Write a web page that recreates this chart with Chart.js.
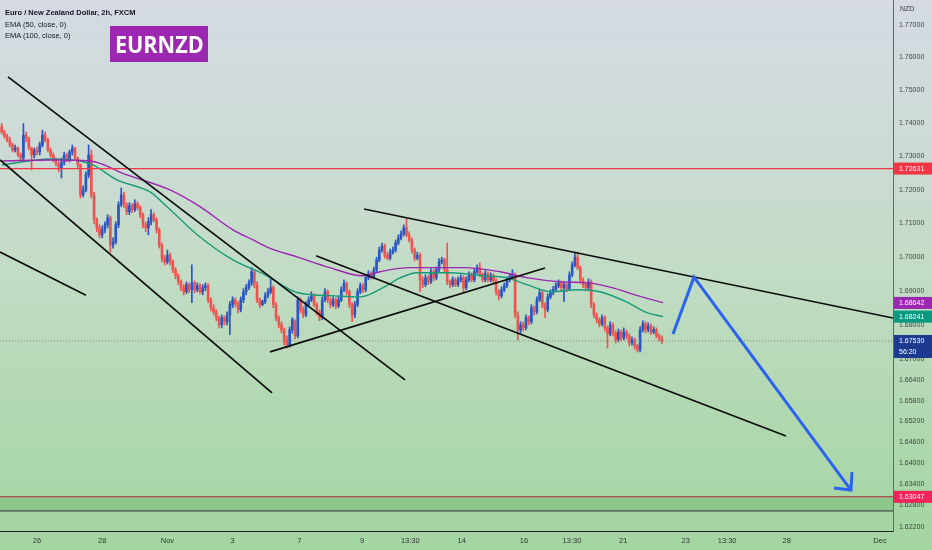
<!DOCTYPE html>
<html>
<head>
<meta charset="utf-8">
<script src="https://cdn.jsdelivr.net/npm/chart.js@4.4.0/dist/chart.umd.min.js"></script>
<style>
html,body{margin:0;padding:0;}
body{width:932px;height:550px;overflow:hidden;position:relative;
  background:linear-gradient(180deg,#d5dae3 0%,#cddbd6 25%,#c2dcc5 50%,#b1d8b0 75%,#a3d5a1 100%);
  font-family:"Liberation Sans",Arial,sans-serif;}
#c{position:absolute;left:0;top:0;}
.leg{position:absolute;left:5px;font-size:7.5px;line-height:9px;color:#131722;white-space:nowrap;}
#badge{position:absolute;left:110px;top:26px;width:98px;height:36px;background:#9c27b0;color:#fff;
  font-family:"Open Sans","Noto Sans",sans-serif;font-weight:700;font-size:24px;line-height:36px;text-align:center;}
#badge span{display:inline-block;transform:scaleX(0.9);}
</style>
</head>
<body>
<canvas id="c" width="932" height="550"></canvas>
<div class="leg" style="top:7.5px;font-weight:bold;">Euro / New Zealand Dollar, 2h, FXCM</div>
<div class="leg" style="top:19.5px;">EMA (50, close, 0)</div>
<div class="leg" style="top:30.5px;">EMA (100, close, 0)</div>
<div id="badge"><span>EURNZD</span></div>
<script>
// ---- time axis: trading days counted from Oct 26 00:00 ----
const firstBarDay = -13/12;   // first visible 2h bar (Oct 24 22:00)
const barStepDays = 1/12;     // 2h bars
const xMinDay = -1.135, xMaxDay = 26.258;
const xTickDays   = [0, 2, 4, 6, 8.05, 9.97, 11.45, 13.03, 14.94, 16.41, 17.98, 19.9, 21.17, 23.0, 25.86];
const xTickLabels = ["26","28","Nov","3","7","9","13:30","14","16","13:30","21","23","13:30","28","Dec"];

// ---- price axis ----
const yMinPrice = 1.6208, yMaxPrice = 1.7777;
const yTickValues = [1.77,1.76,1.75,1.74,1.73,1.72,1.71,1.70,1.69,1.68,1.67,1.664,1.658,1.652,1.646,1.640,1.634,1.628,1.622];

// ---- 2h candles ----
const opens = [
1.7390,1.7373,1.7361,1.7349,1.7334,1.7319,1.7325,1.7304,1.7295,1.7364,
1.7355,1.7325,1.7304,1.7319,1.7313,1.7334,1.7364,1.7349,1.7319,1.7304,
1.7289,1.7277,1.7265,1.7283,1.7304,1.7289,1.7313,1.7325,1.7295,1.7274,
1.7184,1.7199,1.7244,1.7304,1.7184,1.7110,1.7086,1.7065,1.7080,1.7095,
1.7116,1.7035,1.7044,1.7095,1.7155,1.7184,1.7155,1.7134,1.7152,1.7140,
1.7158,1.7146,1.7125,1.7095,1.7086,1.7104,1.7125,1.7110,1.7080,1.7035,
1.6996,1.6985,1.7005,1.6985,1.6962,1.6944,1.6926,1.6909,1.6897,1.6918,
1.6903,1.6923,1.6903,1.6915,1.6897,1.6909,1.6915,1.6873,1.6850,1.6838,
1.6821,1.6800,1.6821,1.6809,1.6829,1.6859,1.6873,1.6862,1.6844,1.6873,
1.6897,1.6909,1.6923,1.6956,1.6918,1.6873,1.6859,1.6868,1.6885,1.6897,
1.6909,1.6859,1.6821,1.6800,1.6785,1.6756,1.6741,1.6785,1.6809,1.6768,
1.6873,1.6844,1.6829,1.6859,1.6873,1.6885,1.6859,1.6838,1.6821,1.6873,
1.6897,1.6873,1.6859,1.6873,1.6856,1.6873,1.6903,1.6921,1.6897,1.6859,
1.6829,1.6859,1.6897,1.6915,1.6903,1.6938,1.6950,1.6941,1.6962,1.6991,
1.7020,1.7032,1.7005,1.6996,1.7014,1.7020,1.7041,1.7056,1.7068,1.7086,
1.7065,1.7050,1.7020,1.6996,1.7005,1.6932,1.6918,1.6938,1.6926,1.6956,
1.6938,1.6962,1.6985,1.6991,1.6962,1.6926,1.6918,1.6932,1.6918,1.6932,
1.6938,1.6909,1.6932,1.6947,1.6932,1.6956,1.6968,1.6947,1.6932,1.6950,
1.6932,1.6944,1.6929,1.6897,1.6885,1.6903,1.6915,1.6932,1.6941,1.6947,
1.6829,1.6785,1.6800,1.6791,1.6821,1.6809,1.6850,1.6838,1.6873,1.6894,
1.6859,1.6844,1.6882,1.6894,1.6903,1.6915,1.6923,1.6909,1.6918,1.6906,
1.6947,1.6976,1.6999,1.6968,1.6932,1.6918,1.6909,1.6926,1.6859,1.6829,
1.6815,1.6803,1.6821,1.6791,1.6774,1.6800,1.6776,1.6756,1.6779,1.6762,
1.6779,1.6768,1.6747,1.6756,1.6738,1.6727,1.6785,1.6803,1.6785,1.6797,
1.6779,1.6785,1.6768,1.6762];
const highs = [
1.7399,1.7379,1.7367,1.7358,1.7340,1.7334,1.7328,1.7310,1.7399,1.7373,
1.7358,1.7328,1.7325,1.7328,1.7343,1.7379,1.7373,1.7355,1.7325,1.7310,
1.7295,1.7283,1.7295,1.7313,1.7310,1.7319,1.7334,1.7328,1.7298,1.7277,
1.7211,1.7253,1.7334,1.7319,1.7193,1.7116,1.7095,1.7092,1.7104,1.7125,
1.7122,1.7056,1.7104,1.7164,1.7205,1.7193,1.7161,1.7161,1.7158,1.7170,
1.7164,1.7152,1.7131,1.7104,1.7116,1.7140,1.7131,1.7116,1.7086,1.7041,
1.7005,1.7020,1.7011,1.6991,1.6968,1.6950,1.6932,1.6918,1.6926,1.6923,
1.6976,1.6929,1.6923,1.6921,1.6918,1.6923,1.6921,1.6879,1.6859,1.6844,
1.6826,1.6829,1.6826,1.6838,1.6868,1.6882,1.6879,1.6868,1.6882,1.6906,
1.6918,1.6932,1.6968,1.6962,1.6926,1.6879,1.6873,1.6894,1.6906,1.6938,
1.6915,1.6865,1.6826,1.6809,1.6791,1.6768,1.6794,1.6821,1.6815,1.6882,
1.6879,1.6853,1.6868,1.6882,1.6897,1.6891,1.6865,1.6844,1.6882,1.6906,
1.6903,1.6879,1.6882,1.6879,1.6885,1.6912,1.6932,1.6926,1.6903,1.6865,
1.6868,1.6906,1.6923,1.6921,1.6947,1.6959,1.6956,1.6970,1.6999,1.7029,
1.7041,1.7038,1.7014,1.7023,1.7029,1.7050,1.7065,1.7077,1.7095,1.7113,
1.7074,1.7056,1.7026,1.7014,1.7011,1.6941,1.6947,1.6944,1.6965,1.6962,
1.6970,1.6994,1.6999,1.6996,1.7041,1.6932,1.6941,1.6938,1.6941,1.6947,
1.6944,1.6941,1.6956,1.6953,1.6965,1.6976,1.6982,1.6953,1.6959,1.6956,
1.6953,1.6950,1.6935,1.6903,1.6912,1.6923,1.6941,1.6950,1.6962,1.6953,
1.6838,1.6809,1.6809,1.6829,1.6826,1.6859,1.6856,1.6882,1.6903,1.6900,
1.6865,1.6891,1.6903,1.6912,1.6923,1.6932,1.6929,1.6926,1.6923,1.6956,
1.6985,1.7014,1.7014,1.6973,1.6938,1.6923,1.6935,1.6932,1.6865,1.6835,
1.6821,1.6829,1.6826,1.6797,1.6809,1.6806,1.6782,1.6788,1.6785,1.6791,
1.6785,1.6774,1.6765,1.6762,1.6744,1.6794,1.6812,1.6809,1.6806,1.6803,
1.6794,1.6791,1.6774,1.6768];
const lows = [
1.7367,1.7355,1.7343,1.7328,1.7313,1.7313,1.7298,1.7283,1.7289,1.7343,
1.7319,1.7259,1.7295,1.7304,1.7304,1.7328,1.7343,1.7313,1.7298,1.7283,
1.7271,1.7253,1.7235,1.7274,1.7283,1.7283,1.7304,1.7289,1.7265,1.7175,
1.7178,1.7193,1.7235,1.7175,1.7098,1.7074,1.7056,1.7056,1.7071,1.7086,
1.7014,1.7026,1.7038,1.7086,1.7149,1.7146,1.7125,1.7125,1.7131,1.7134,
1.7140,1.7116,1.7086,1.7074,1.7065,1.7095,1.7104,1.7071,1.7026,1.6985,
1.6976,1.6979,1.6976,1.6953,1.6935,1.6918,1.6900,1.6888,1.6891,1.6894,
1.6865,1.6894,1.6897,1.6891,1.6888,1.6900,1.6865,1.6841,1.6829,1.6812,
1.6791,1.6791,1.6800,1.6800,1.6771,1.6850,1.6853,1.6835,1.6838,1.6865,
1.6888,1.6903,1.6915,1.6909,1.6865,1.6850,1.6856,1.6862,1.6879,1.6891,
1.6850,1.6812,1.6791,1.6776,1.6741,1.6732,1.6735,1.6776,1.6759,1.6762,
1.6835,1.6821,1.6824,1.6853,1.6868,1.6853,1.6829,1.6812,1.6815,1.6868,
1.6865,1.6850,1.6853,1.6847,1.6850,1.6868,1.6897,1.6888,1.6850,1.6809,
1.6821,1.6853,1.6891,1.6894,1.6897,1.6932,1.6935,1.6935,1.6956,1.6985,
1.7014,1.6996,1.6991,1.6991,1.7008,1.7014,1.7035,1.7050,1.7062,1.7059,
1.7044,1.7011,1.6988,1.6991,1.6897,1.6909,1.6912,1.6918,1.6921,1.6929,
1.6932,1.6956,1.6979,1.6953,1.6918,1.6909,1.6912,1.6912,1.6912,1.6926,
1.6894,1.6903,1.6926,1.6926,1.6926,1.6950,1.6941,1.6926,1.6926,1.6926,
1.6926,1.6923,1.6888,1.6873,1.6879,1.6897,1.6909,1.6926,1.6935,1.6821,
1.6756,1.6776,1.6782,1.6785,1.6800,1.6803,1.6829,1.6832,1.6868,1.6850,
1.6821,1.6838,1.6876,1.6888,1.6897,1.6909,1.6900,1.6868,1.6897,1.6900,
1.6941,1.6970,1.6962,1.6923,1.6909,1.6900,1.6903,1.6850,1.6821,1.6806,
1.6794,1.6797,1.6782,1.6732,1.6768,1.6768,1.6747,1.6750,1.6753,1.6756,
1.6759,1.6738,1.6741,1.6729,1.6721,1.6721,1.6779,1.6776,1.6779,1.6771,
1.6774,1.6762,1.6753,1.6744];
const closes = [
1.7373,1.7361,1.7349,1.7334,1.7319,1.7325,1.7304,1.7295,1.7364,1.7355,
1.7325,1.7304,1.7319,1.7313,1.7334,1.7364,1.7349,1.7319,1.7304,1.7289,
1.7277,1.7265,1.7283,1.7304,1.7289,1.7313,1.7325,1.7295,1.7274,1.7184,
1.7199,1.7244,1.7304,1.7184,1.7110,1.7086,1.7065,1.7080,1.7095,1.7116,
1.7035,1.7044,1.7095,1.7155,1.7184,1.7155,1.7134,1.7152,1.7140,1.7158,
1.7146,1.7125,1.7095,1.7086,1.7104,1.7125,1.7110,1.7080,1.7035,1.6996,
1.6985,1.7005,1.6985,1.6962,1.6944,1.6926,1.6909,1.6897,1.6918,1.6903,
1.6923,1.6903,1.6915,1.6897,1.6909,1.6915,1.6873,1.6850,1.6838,1.6821,
1.6800,1.6821,1.6809,1.6829,1.6859,1.6873,1.6862,1.6844,1.6873,1.6897,
1.6909,1.6923,1.6956,1.6918,1.6873,1.6859,1.6868,1.6885,1.6897,1.6909,
1.6859,1.6821,1.6800,1.6785,1.6756,1.6741,1.6785,1.6815,1.6768,1.6873,
1.6844,1.6829,1.6859,1.6873,1.6885,1.6859,1.6838,1.6821,1.6873,1.6897,
1.6873,1.6859,1.6873,1.6856,1.6873,1.6903,1.6921,1.6897,1.6859,1.6829,
1.6859,1.6897,1.6915,1.6903,1.6938,1.6950,1.6941,1.6962,1.6991,1.7020,
1.7032,1.7005,1.6996,1.7014,1.7020,1.7041,1.7056,1.7068,1.7086,1.7065,
1.7050,1.7020,1.6996,1.7005,1.6932,1.6918,1.6938,1.6926,1.6956,1.6938,
1.6962,1.6985,1.6991,1.6962,1.6926,1.6918,1.6932,1.6918,1.6932,1.6938,
1.6909,1.6932,1.6947,1.6932,1.6956,1.6968,1.6947,1.6932,1.6950,1.6932,
1.6944,1.6929,1.6897,1.6885,1.6903,1.6915,1.6932,1.6941,1.6947,1.6829,
1.6785,1.6800,1.6791,1.6821,1.6809,1.6850,1.6838,1.6873,1.6894,1.6859,
1.6844,1.6882,1.6894,1.6903,1.6915,1.6923,1.6909,1.6918,1.6906,1.6947,
1.6976,1.6999,1.6968,1.6932,1.6918,1.6909,1.6926,1.6859,1.6829,1.6815,
1.6803,1.6821,1.6791,1.6774,1.6800,1.6776,1.6756,1.6779,1.6762,1.6779,
1.6768,1.6747,1.6756,1.6738,1.6727,1.6785,1.6803,1.6785,1.6797,1.6779,
1.6785,1.6768,1.6762,1.6753];

// ---- moving averages ----
const ema50Days = [-1.074,0.399,1.319,1.718,2.454,3.466,3.988,5.0,6.012,6.994,8.006,9.141,9.908,10.613,11.135,11.656,12.669,13.681,14.417,15.031,15.798,16.595,17.27,18.129,18.65,19.202];
const ema50Vals = [1.7274,1.7292,1.7286,1.7274,1.7229,1.7193,1.7149,1.7059,1.6991,1.6947,1.6894,1.6885,1.6882,1.6909,1.6938,1.6953,1.6953,1.6944,1.6938,1.6918,1.6897,1.6903,1.6897,1.6865,1.6838,1.6824];
const ema100Days = [-1.074,0.399,1.626,2.761,4.08,5.0,6.012,6.626,7.055,8.006,8.988,9.988,10.521,11.442,13.067,14.202,15.061,16.104,16.902,17.638,18.344,19.202];
const ema100Vals = [1.7286,1.7289,1.7286,1.7244,1.7199,1.7149,1.7080,1.7050,1.7029,1.6999,1.6968,1.6944,1.6956,1.6968,1.6968,1.6956,1.6938,1.6926,1.6923,1.6909,1.6888,1.6865];

// ---- levels and drawings ----
const resistanceLevel = 1.72631;
const supportLevel = 1.63047;
const supportZoneLow = 1.6265;
const lastPrice = 1.67530;
const lastEma50 = 1.68241;
const lastEma100 = 1.68642;
const barCountdown = "56:20";
const trendLines = [
  [[-0.890,1.7541],[11.288,1.6640]],
  [[-1.135,1.7289],[7.209,1.6602]],
  [[-1.135,1.7014],[1.503,1.6887]],
  [[8.558,1.7003],[22.975,1.6478]],
  [[7.147,1.6721],[15.583,1.6967]],
  [[10.031,1.7142],[26.258,1.6820]]
];
const arrowPath = [[19.509,1.6773],[20.153,1.6940],[24.969,1.6324]];
const arrowHead = [[25.0,1.6375],[24.969,1.6324],[24.448,1.6330]];

// ---- build datasets ----
const upColor = '#2a55c2', downColor = '#ef5350';
const barX = opens.map((_, i) => firstBarDay + i * barStepDays);
const candleColors = closes.map((c, i) => c >= opens[i] ? upColor : downColor);
const pts = arr => arr.map(p => ({x: p[0], y: p[1]}));
const hline = v => [{x: xMinDay, y: v}, {x: xMaxDay, y: v}];

const datasets = [
  {type:'bar', label:'wicks', data: barX.map((x,i)=>({x, y:[lows[i], highs[i]]})),
   backgroundColor: candleColors, barThickness: 1, grouped:false, order: 6, borderWidth:0},
  {type:'bar', label:'bodies', data: barX.map((x,i)=>({x, y:[opens[i], closes[i]]})),
   backgroundColor: candleColors, barThickness: 2, grouped:false, order: 5, borderWidth:0, minBarLength:1},
  {type:'line', label:'zone', data: hline(supportZoneLow), borderColor:'#5b7360', borderWidth:1.6,
   fill:{value: supportLevel}, backgroundColor:'rgba(70,165,75,0.28)', pointRadius:0, order:7},
  {type:'line', label:'EMA100', data: ema100Days.map((d,i)=>({x:d, y:ema100Vals[i]})), borderColor:'#9c27b0',
   borderWidth:1.4, pointRadius:0, cubicInterpolationMode:'monotone', order:3},
  {type:'line', label:'EMA50', data: ema50Days.map((d,i)=>({x:d, y:ema50Vals[i]})), borderColor:'#179c78',
   borderWidth:1.4, pointRadius:0, cubicInterpolationMode:'monotone', order:3},
  {type:'line', label:'res', data: hline(resistanceLevel), borderColor:'#f23645', borderWidth:1.3, pointRadius:0, order:2},
  {type:'line', label:'sup', data: hline(supportLevel), borderColor:'#b3263f', borderWidth:1.1, pointRadius:0, order:2},
  {type:'line', label:'last', data: hline(lastPrice), borderColor:'#7d8a82', borderWidth:1, borderDash:[1,2], pointRadius:0, order:4},
];
trendLines.forEach((t, k) => datasets.push({type:'line', label:'trend'+k, data: pts(t), borderColor:'#0c0c0c',
  borderWidth:1.7, pointRadius:0, order:1}));
datasets.push({type:'line', label:'arrow', data: pts(arrowPath), borderColor:'#2b63ef', borderWidth:3, pointRadius:0, order:0, borderJoinStyle:'miter'});
datasets.push({type:'line', label:'arrowHead', data: pts(arrowHead), borderColor:'#2b63ef', borderWidth:3, pointRadius:0, order:0, borderJoinStyle:'miter'});

const axisTags = {
  id:'axisTags',
  afterDraw(chart){
    const ctx = chart.ctx, y = chart.scales.y, left = chart.chartArea.right + 1, w = 932 - left;
    ctx.save();
    ctx.font = '7px "Liberation Sans", Arial, sans-serif';
    ctx.textBaseline = 'middle';
    ctx.fillStyle = '#3a3a3a';
    ctx.fillText('NZD', left + 6, 9);
    const tag = (v, text, bg) => {
      const py = y.getPixelForValue(v);
      ctx.fillStyle = bg; ctx.fillRect(left, py - 6, w, 12);
      ctx.fillStyle = '#fff'; ctx.fillText(text, left + 5, py + 0.5);
    };
    tag(resistanceLevel, resistanceLevel.toFixed(5), '#f23645');
    tag(lastEma100, lastEma100.toFixed(5), '#9c27b0');
    tag(lastEma50, lastEma50.toFixed(5), '#089981');
    tag(supportLevel, supportLevel.toFixed(5), '#f0245a');
    const py = y.getPixelForValue(lastPrice);
    ctx.fillStyle = '#1b3a90'; ctx.fillRect(left, py - 6, w, 23);
    ctx.fillStyle = '#fff';
    ctx.fillText(lastPrice.toFixed(5), left + 5, py + 0.5);
    ctx.fillText(barCountdown, left + 5, py + 11);
    ctx.restore();
  }
};

new Chart(document.getElementById('c'), {
  type: 'bar',
  data: { datasets },
  options: {
    responsive: false, animation: false, devicePixelRatio: 1,
    layout: { padding: 0 },
    plugins: { legend:{display:false}, tooltip:{enabled:false} },
    scales: {
      x: {
        type:'linear', min:xMinDay, max:xMaxDay, offset:false,
        grid:{display:false, drawTicks:false},
        border:{display:true, color:'#222', width:1},
        ticks:{autoSkip:false, maxRotation:0, padding:5, color:'#333',
               font:{family:'"Liberation Sans", Arial, sans-serif', size:7.5},
               callback:(v, i) => xTickLabels[i]},
        afterBuildTicks: ax => { ax.ticks = xTickDays.map(v => ({value:v})); },
        afterFit: ax => { ax.height = 19; ax.paddingLeft = 0; ax.paddingRight = 0; ax.paddingTop = 0; ax.paddingBottom = 0; }
      },
      y: {
        type:'logarithmic', position:'right', min:yMinPrice, max:yMaxPrice,
        grid:{display:false, drawTicks:false},
        border:{display:true, color:'#5d6d63', width:1},
        ticks:{autoSkip:false, padding:6, color:'#444',
               font:{family:'"Liberation Sans", Arial, sans-serif', size:7},
               callback: v => Number(v).toFixed(5)},
        afterBuildTicks: ax => { ax.ticks = yTickValues.map(v => ({value:v})); },
        afterFit: ax => { ax.width = 39; ax.paddingTop = 0; ax.paddingBottom = 0; ax.paddingLeft = 0; ax.paddingRight = 0; }
      }
    }
  },
  plugins: [axisTags]
});
</script>
</body>
</html>
